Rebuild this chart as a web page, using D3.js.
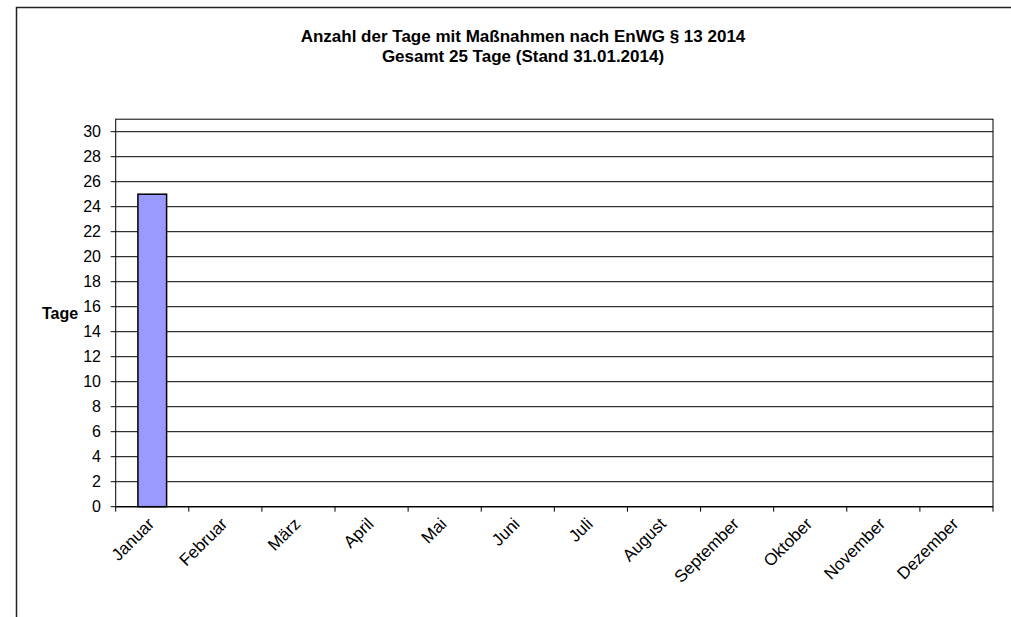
<!DOCTYPE html>
<html>
<head>
<meta charset="utf-8">
<script src="https://cdn.jsdelivr.net/npm/d3@7"></script>
<style>
  body { margin: 0; background: #fff; }
  svg { display: block; font-family: Arial, "Liberation Sans", sans-serif; }
</style>
</head>
<body>
<div id="chart"></div>
<script>
const months = ["Januar", "Februar", "März", "April", "Mai", "Juni", "Juli",
                "August", "September", "Oktober", "November", "Dezember"];
const tage = [25, 0, 0, 0, 0, 0, 0, 0, 0, 0, 0, 0];
const yTicks = [0, 2, 4, 6, 8, 10, 12, 14, 16, 18, 20, 22, 24, 26, 28, 30];
const titleLines = ["Anzahl der Tage mit Maßnahmen nach EnWG § 13 2014",
                    "Gesamt 25 Tage (Stand 31.01.2014)"];

const width = 1011, height = 617;
const plotL = 115.7, plotR = 993, plotT = 119.2, plotB = 506.7;

let svg = d3.select("#chart").append("svg")
            .attr("width", width)
            .attr("height", height);

// outer frame (only top and left edges are visible)
svg.append("path")
   .attr("d", "M16.5," + height + "V7.5H" + width)
   .attr("fill", "none")
   .attr("stroke", "#222")
   .attr("stroke-width", 1.5);

// title
svg.selectAll("text.title")
   .data(titleLines)
   .enter()
   .append("text")
   .attr("class", "title")
   .attr("x", 523)
   .attr("y", (d, i) => 42 + i * 20)
   .attr("text-anchor", "middle")
   .attr("font-weight", "bold")
   .attr("font-size", "17px")
   .text((d) => d);

let x = d3.scaleBand()
          .domain(months)
          .range([plotL, plotR]);

let y = d3.scaleLinear()
          .domain([0, 31])
          .range([plotB, plotT]);

// gridlines
svg.append("g")
   .selectAll("line")
   .data(yTicks)
   .enter()
   .append("line")
   .attr("x1", plotL - 5)
   .attr("x2", plotR)
   .attr("y1", (d) => y(d))
   .attr("y2", (d) => y(d))
   .attr("stroke", "#000")
   .attr("stroke-width", 1);

// plot area border
svg.append("rect")
   .attr("x", plotL)
   .attr("y", plotT)
   .attr("width", plotR - plotL)
   .attr("height", plotB - plotT)
   .attr("fill", "none")
   .attr("stroke", "#000")
   .attr("stroke-width", 1);

// y labels
svg.append("g")
   .selectAll("text")
   .data(yTicks)
   .enter()
   .append("text")
   .attr("x", 101)
   .attr("y", (d) => y(d))
   .attr("dy", "0.36em")
   .attr("text-anchor", "end")
   .attr("font-size", "16px")
   .text((d) => d);

svg.append("text")
   .attr("x", 42)
   .attr("y", 319)
   .attr("font-weight", "bold")
   .attr("font-size", "16px")
   .text("Tage");

// bars
const barW = 28.7;
svg.append("g")
   .selectAll("rect")
   .data(tage.map((d, i) => ({month: months[i], value: d})).filter((d) => d.value > 0))
   .enter()
   .append("rect")
   .attr("x", (d) => x(d.month) + x.bandwidth() / 2 - barW / 2)
   .attr("y", (d) => y(d.value))
   .attr("width", barW)
   .attr("height", (d) => y(0) - y(d.value))
   .attr("fill", "#9999ff")
   .attr("stroke", "#000")
   .attr("stroke-width", 1.5);

// x axis line and ticks
svg.append("line")
   .attr("x1", plotL)
   .attr("x2", plotR)
   .attr("y1", plotB)
   .attr("y2", plotB)
   .attr("stroke", "#000");

svg.append("g")
   .selectAll("line")
   .data(months.concat([null]))
   .enter()
   .append("line")
   .attr("x1", (d) => d === null ? plotR : x(d))
   .attr("x2", (d) => d === null ? plotR : x(d))
   .attr("y1", plotB)
   .attr("y2", plotB + 5)
   .attr("stroke", "#000");

svg.append("g")
   .selectAll("text")
   .data(months)
   .enter()
   .append("text")
   .attr("transform", (d) => "translate(" + (x(d) + x.bandwidth() / 2 + 3) + "," + 525 + ") rotate(-45)")
   .attr("text-anchor", "end")
   .attr("font-size", "17px")
   .text((d) => d);
</script>
</body>
</html>
